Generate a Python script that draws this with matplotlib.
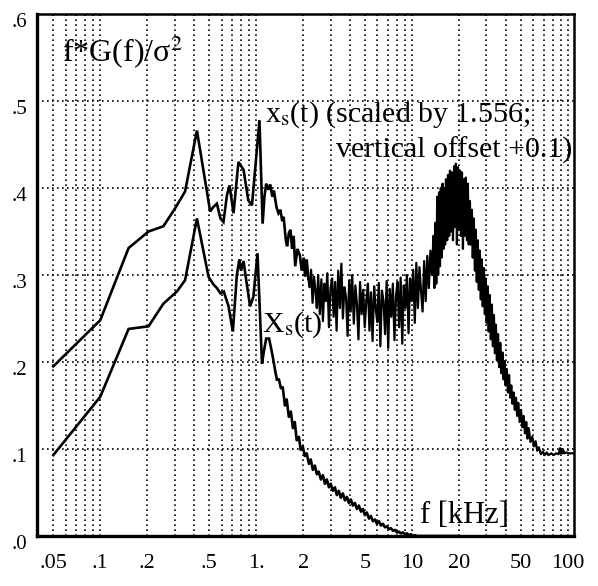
import numpy as np
import matplotlib
matplotlib.use("Agg")
import matplotlib.pyplot as plt
from matplotlib.transforms import ScaledTranslation

plt.rcParams['font.family'] = ['Liberation Serif', 'DejaVu Serif']
plt.rcParams['mathtext.fontset'] = 'stix'

# ---------------- data ----------------
# upper curve: x_s(t) scaled by 1.556, offset +0.1
up_f_a = [0.05, 0.1, 0.152, 0.204, 0.254, 0.303, 0.35, 0.417, 0.507, 0.53,
          0.56, 0.59, 0.617, 0.65, 0.675, 0.716, 0.77, 0.83, 0.89, 0.94,
          1.05, 1.10, 1.13, 1.16, 1.20, 1.23, 1.27, 1.30, 1.35, 1.39,
          1.43, 1.47, 1.50, 1.55, 1.58, 1.62, 1.66, 1.70, 1.74, 1.78,
          1.84, 1.91, 1.96, 2.02, 2.06, 2.11, 2.16]
up_v_a = [0.195, 0.248, 0.331, 0.350, 0.356, 0.377, 0.396, 0.466, 0.373, 0.378,
          0.382, 0.365, 0.361, 0.392, 0.403, 0.371, 0.430, 0.421, 0.386, 0.380,
          0.478, 0.359, 0.390, 0.405, 0.398, 0.404, 0.390, 0.397, 0.378, 0.371,
          0.375, 0.362, 0.367, 0.340, 0.333, 0.348, 0.352, 0.330, 0.345, 0.310,
          0.330, 0.322, 0.305, 0.320, 0.298, 0.318, 0.296]

up_f_b = [2.20, 2.25, 2.30, 2.35, 2.40, 2.45, 2.50, 2.56, 2.62, 2.68,
          2.74, 2.80, 2.86, 2.93, 3.00, 3.07, 3.14, 3.21, 3.28, 3.36,
          3.44, 3.52, 3.60, 3.68, 3.77, 3.86, 3.95, 4.04, 4.13, 4.23,
          4.33, 4.43, 4.53, 4.64, 4.75, 4.86, 4.97, 5.09, 5.21, 5.33,
          5.45, 5.58, 5.71, 5.84, 5.98, 6.12, 6.26, 6.41, 6.56, 6.71,
          6.87, 7.03, 7.19, 7.36, 7.53, 7.71, 7.89, 8.07, 8.26, 8.45,
          8.65, 8.85, 9.06, 9.27, 9.49, 9.71, 9.94, 10.17, 10.41, 10.65,
          10.90, 11.15, 11.41, 11.68, 11.95, 12.23, 12.52, 12.81, 13.11, 13.42]
up_v_b = [0.286, 0.306, 0.268, 0.298, 0.282, 0.262, 0.300, 0.255, 0.295, 0.247,
          0.290, 0.270, 0.302, 0.240, 0.285, 0.296, 0.252, 0.292, 0.236, 0.305,
          0.262, 0.313, 0.250, 0.286, 0.275, 0.230, 0.294, 0.258, 0.300, 0.244,
          0.288, 0.266, 0.226, 0.292, 0.255, 0.283, 0.240, 0.270, 0.290, 0.236,
          0.280, 0.224, 0.287, 0.262, 0.246, 0.291, 0.218, 0.282, 0.270, 0.232,
          0.293, 0.216, 0.284, 0.252, 0.290, 0.225, 0.276, 0.292, 0.240, 0.297,
          0.221, 0.288, 0.262, 0.300, 0.233, 0.296, 0.270, 0.306, 0.245, 0.314,
          0.262, 0.309, 0.282, 0.258, 0.316, 0.270, 0.322, 0.285, 0.328, 0.300]

up_f_c = [13.7, 13.9, 14.1, 14.3, 14.5, 14.7, 14.9, 15.1, 15.3, 15.5,
          15.7, 15.9, 16.1, 16.3, 16.5, 16.8, 17.0, 17.3, 17.5, 17.8,
          18.0, 18.3, 18.6, 18.8, 19.1, 19.4, 19.7, 20.0, 20.3, 20.6,
          20.9, 21.2, 21.5, 21.8, 22.1, 22.5, 22.8, 23.1, 23.5, 23.8,
          24.2, 24.5, 24.9, 25.3, 25.6, 26.0, 26.4, 26.8, 27.2, 27.6,
          28.0, 28.4, 28.9, 29.3, 29.7]
up_v_c = [0.345, 0.285, 0.360, 0.290, 0.390, 0.300, 0.395, 0.310, 0.400, 0.320,
          0.405, 0.330, 0.400, 0.335, 0.410, 0.340, 0.415, 0.345, 0.420, 0.350,
          0.418, 0.340, 0.425, 0.355, 0.428, 0.335, 0.424, 0.352, 0.420, 0.345,
          0.418, 0.330, 0.410, 0.345, 0.412, 0.340, 0.405, 0.335, 0.385, 0.335,
          0.375, 0.320, 0.365, 0.305, 0.352, 0.292, 0.340, 0.283, 0.328, 0.272,
          0.318, 0.264, 0.308, 0.255, 0.296]

up_f_d = [30.1, 30.6, 31.0, 31.5, 32.0, 32.5, 33.0, 33.5, 34.0, 34.5,
          35.0, 35.6, 36.2, 36.8, 37.4, 38.0, 38.6, 39.2, 39.8, 40.5,
          41.2, 41.9, 42.6, 43.3, 44.0, 44.8, 45.6, 46.4, 47.2, 48.0,
          49.0, 50.0, 51.0, 52.0, 53.0, 54.0, 55.0, 56.0, 57.5, 59.0,
          60.5, 62.0, 63.5, 65.0, 67.0, 69.0, 71.0, 73.0, 75.0, 78.0,
          81.0, 84.0, 87.0, 89.0, 90.0, 91.0, 92.0, 93.0, 95.0, 98.0,
          101.0, 105.0, 110.0]
up_v_d = [0.245, 0.287, 0.235, 0.277, 0.226, 0.266, 0.218, 0.254, 0.210, 0.243,
          0.202, 0.232, 0.194, 0.222, 0.187, 0.211, 0.180, 0.201, 0.173, 0.192,
          0.165, 0.185, 0.159, 0.173, 0.152, 0.165, 0.145, 0.159, 0.138, 0.153,
          0.131, 0.145, 0.125, 0.138, 0.118, 0.131, 0.112, 0.124, 0.108, 0.114,
          0.103, 0.109, 0.098, 0.102, 0.094, 0.097, 0.093, 0.096, 0.093, 0.095,
          0.093, 0.095, 0.094, 0.101, 0.095, 0.100, 0.095, 0.099, 0.095, 0.096,
          0.095, 0.095, 0.095]

# lower curve: X_s(t)
lo_f_a = [0.05, 0.1, 0.152, 0.204, 0.254, 0.31, 0.35, 0.417, 0.495, 0.533,
          0.56, 0.59, 0.62, 0.665, 0.709, 0.752, 0.78, 0.80, 0.83, 0.87,
          0.915, 0.96, 1.02, 1.09, 1.12, 1.16, 1.21, 1.25, 1.29, 1.33,
          1.36]
lo_v_a = [0.093, 0.160, 0.238, 0.241, 0.267, 0.281, 0.294, 0.365, 0.298, 0.289,
          0.285, 0.279, 0.281, 0.264, 0.235, 0.300, 0.318, 0.305, 0.316, 0.290,
          0.264, 0.275, 0.325, 0.198, 0.212, 0.227, 0.227, 0.215, 0.202, 0.188,
          0.180]

lo_f_b = [1.40, 1.44, 1.48, 1.53, 1.57, 1.62, 1.67, 1.72, 1.77, 1.82,
          1.88, 1.93, 1.99, 2.05, 2.11, 2.18, 2.24, 2.31, 2.38, 2.45,
          2.52, 2.60, 2.68, 2.76, 2.84, 2.93, 3.01, 3.10, 3.20, 3.29,
          3.39, 3.49, 3.60, 3.71, 3.82, 3.93, 4.05, 4.17, 4.30, 4.43,
          4.56, 4.70, 4.84, 4.98, 5.13, 5.29, 5.44, 5.61, 5.78, 5.95,
          6.13, 6.31, 6.50, 6.70, 6.90, 7.10, 7.32, 7.54, 7.76, 8.00,
          8.24, 8.48, 8.74, 9.00, 9.27, 9.55, 9.84, 10.1, 10.4, 10.8,
          11.1, 20.0]
lo_v_b = [0.180, 0.170, 0.171, 0.150, 0.157, 0.137, 0.143, 0.124, 0.131, 0.110,
          0.114, 0.099, 0.103, 0.092, 0.095, 0.083, 0.088, 0.076, 0.081, 0.071,
          0.074, 0.065, 0.070, 0.060, 0.065, 0.056, 0.060, 0.052, 0.056, 0.047,
          0.052, 0.044, 0.049, 0.041, 0.045, 0.038, 0.042, 0.035, 0.038, 0.031,
          0.035, 0.028, 0.031, 0.024, 0.027, 0.020, 0.023, 0.017, 0.019, 0.014,
          0.017, 0.012, 0.014, 0.010, 0.011, 0.008, 0.009, 0.006, 0.007, 0.004,
          0.005, 0.003, 0.004, 0.002, 0.003, 0.001, 0.002, 0.000, 0.001, 0.000,
          0.000, 0.000]

xtick_vals = [0.05, 0.1, 0.2, 0.5, 1, 2, 5, 10, 20, 50, 100]
xtick_labels = ['.05', '.1', '.2', '.5', '1.', '2', '5', '10', '20', '50', '100']
ytick_vals = [0.0, 0.1, 0.2, 0.3, 0.4, 0.5, 0.6]
ytick_labels = ['.0', '.1', '.2', '.3', '.4', '.5', '.6']

# ---------------- figure ----------------
fig = plt.figure(figsize=(5.98, 5.86), dpi=100)
ax = fig.add_axes([37/598, 1 - 536/586, 537/598, 522/586])
ax.set_xscale('log')
ax.set_xlim(0.0393, 109.3)
ax.set_ylim(0, 0.6)

# smooth low-frequency parts (heavier), noisy parts, joined end to end
ax.plot(up_f_a, up_v_a, color='black', lw=1.9, zorder=3, solid_joinstyle='miter')
ax.plot(up_f_a[-1:] + up_f_b + up_f_c + up_f_d, up_v_a[-1:] + up_v_b + up_v_c + up_v_d,
        color='black', lw=1.6, zorder=3)
ax.plot(lo_f_a, lo_v_a, color='black', lw=1.9, zorder=3, solid_joinstyle='miter')
ax.plot(lo_f_a[-1:] + lo_f_b, lo_v_a[-1:] + lo_v_b, color='black', lw=1.9, zorder=3)

ax.set_xticks(xtick_vals)
ax.set_xticklabels(xtick_labels, fontsize=16)
ax.xaxis.set_minor_locator(matplotlib.ticker.LogLocator(base=10, subs=np.arange(2, 10)))
ax.xaxis.set_minor_formatter(matplotlib.ticker.NullFormatter())
ax.set_yticks(ytick_vals)
ax.set_yticklabels(ytick_labels, fontsize=15)
ax.tick_params(axis='both', which='both', length=0)
ax.tick_params(axis='x', pad=13)
ax.tick_params(axis='y', pad=7)
for lab in ax.get_yticklabels():
    lab.set_transform(lab.get_transform() + ScaledTranslation(0, -4/72, fig.dpi_scale_trans))

ax.grid(True, which='both', axis='x', color='black', linestyle=(0, (1, 2)), lw=1.2)
ax.grid(True, which='major', axis='y', color='black', linestyle=(0, (1, 2)), lw=1.2)

for side in ['left', 'bottom']:
    ax.spines[side].set_linewidth(2.4)
for side in ['top', 'right']:
    ax.spines[side].set_linewidth(1.8)

ax.text(0.0466, 0.908, 'f*G(f)/σ$^2$', transform=ax.transAxes, fontsize=23,
        ha='left', va='baseline')
ax.text(0.4246, 0.7937, 'x$_\\mathrm{s}$(t) (scaled by 1.556;', transform=ax.transAxes,
        fontsize=21.5, ha='left', va='baseline')
ax.text(0.9963, 0.724, 'vertical offset +0.1)', transform=ax.transAxes,
        fontsize=21.5, ha='right', va='baseline')
ax.text(0.419, 0.391, 'X$_\\mathrm{s}$(t)', transform=ax.transAxes,
        fontsize=21.5, ha='left', va='baseline')
ax.text(0.713, 0.025, 'f [kHz]', transform=ax.transAxes,
        fontsize=22, ha='left', va='baseline')

fig.savefig('out.png', dpi=100)
